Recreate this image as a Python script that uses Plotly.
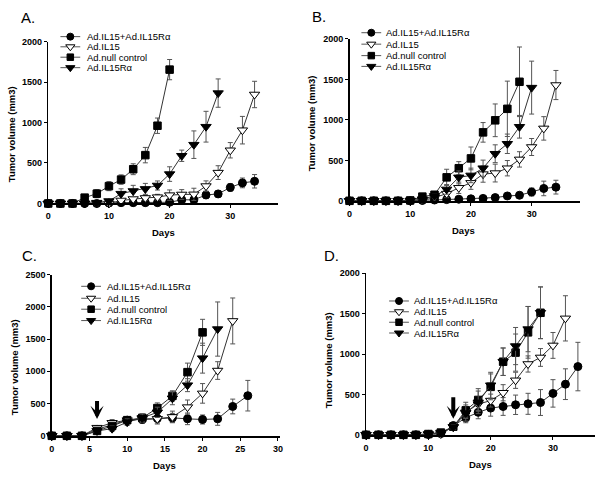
import plotly.graph_objects as go

W, H = 603, 479
FONT = "Arial, Liberation Sans, sans-serif"

series_names = ["Ad.IL15+Ad.IL15Rα", "Ad.IL15", "Ad.null control", "Ad.IL15Rα"]

# ---------------- Panel A ----------------
A_combo = [0, 0, 0, 0, 0, 5, 10, 10, 10, 10, 15, 45, 45, 105, 118, 198, 254, 274]
A_combo_err = [0, 0, 0, 0, 0, 5, 8, 10, 10, 10, 15, 20, 20, 45, 40, 48, 60, 83]
A_il15 = [0, 0, 0, 0, 0, 0, 37, 55, 68, 78, 103, 111, 113, 215, 381, 657, 905, 1346]
A_il15_err = [0, 0, 0, 0, 0, 0, 20, 25, 30, 35, 64, 60, 75, 64, 85, 95, 170, 163]
A_null = [0, 0, 0, 72, 121, 214, 295, 423, 597, 960, 1653]
A_null_err = [0, 0, 0, 20, 50, 56, 58, 67, 95, 95, 125]
A_ra = [0, 0, 0, 0, 10, 30, 121, 154, 180, 222, 363, 589, 726, 948, 1363]
A_ra_err = [0, 0, 0, 0, 10, 15, 60, 70, 68, 56, 90, 70, 170, 190, 175]

# ---------------- Panel B ----------------
B_combo = [0, 0, 0, 0, 0, 0, 5, 10, 15, 20, 25, 30, 40, 60, 69, 109, 153, 169]
B_combo_err = [0, 0, 0, 0, 0, 0, 5, 8, 10, 10, 10, 15, 20, 20, 20, 50, 90, 85]
B_il15 = [0, 0, 0, 0, 0, 0, 5, 40, 89, 161, 222, 330, 343, 403, 512, 665, 895, 1431]
B_il15_err = [0, 0, 0, 0, 0, 0, 5, 20, 50, 70, 80, 100, 110, 95, 95, 105, 145, 180]
B_null = [0, 0, 0, 0, 0, 5, 52, 75, 290, 403, 524, 846, 995, 1137, 1471]
B_null_err = [0, 0, 0, 0, 0, 5, 20, 30, 100, 81, 141, 121, 202, 342, 430]
B_ra = [0, 0, 0, 0, 0, 5, 20, 60, 141, 290, 314, 403, 582, 705, 915, 1399]
B_ra_err = [0, 0, 0, 0, 0, 5, 10, 30, 60, 80, 90, 100, 110, 120, 140, 327]

# ---------------- Panel C ----------------
C_combo = [0, 0, 0, 101, 177, 243, 253, 270, 278, 263, 253, 263, 455, 622]
C_combo_err = [0, 0, 0, 20, 40, 50, 60, 70, 70, 90, 70, 100, 114, 237]
C_il15 = [0, 0, 0, 126, 202, 243, 263, 263, 293, 445, 658, 1012, 1781]
C_il15_err = [0, 0, 0, 30, 50, 50, 60, 80, 90, 110, 152, 137, 356]
C_null = [0, 0, 0, 76, 152, 243, 278, 430, 618, 987, 1604]
C_null_err = [0, 0, 0, 20, 40, 50, 60, 80, 80, 140, 202]
C_ra = [0, 0, 0, 76, 111, 212, 278, 364, 582, 785, 1204, 1655]
C_ra_err = [0, 0, 0, 20, 40, 50, 60, 80, 100, 100, 232, 420]

# ---------------- Panel D ----------------
D_combo = [0, 0, 0, 0, 0, 5, 15, 115, 210, 279, 331, 351, 372, 384, 400, 513, 627, 845]
D_combo_err = [0, 0, 0, 0, 0, 5, 10, 30, 60, 80, 100, 110, 120, 130, 160, 170, 190, 300]
D_il15 = [0, 0, 0, 0, 0, 5, 10, 100, 279, 380, 424, 521, 675, 877, 958, 1107, 1442]
D_il15_err = [0, 0, 0, 0, 0, 5, 10, 30, 60, 80, 80, 100, 100, 100, 110, 160, 280]
D_null = [0, 0, 0, 0, 0, 10, 28, 101, 303, 432, 594, 905, 1018, 1269, 1511]
D_null_err = [0, 0, 0, 0, 0, 10, 15, 30, 100, 140, 160, 170, 230, 320, 320]
D_ra = [0, 0, 0, 0, 0, 10, 28, 95, 270, 402, 614, 905, 1099, 1309, 1511]
D_ra_err = [0, 0, 0, 0, 0, 10, 15, 30, 100, 140, 160, 170, 230, 280, 320]

# treatment arrows (day, tip value, tail value)
C_arrow = (6, 262, 562)
D_arrow = (14, 198, 485)

def days_for(vals):
    return [2 * i for i in range(len(vals))]

styles = [
    dict(symbol="circle", size=8, color="black", line=dict(color="black", width=1)),
    dict(symbol="triangle-down", size=9, color="white", line=dict(color="black", width=1)),
    dict(symbol="square", size=7.5, color="black", line=dict(color="black", width=1)),
    dict(symbol="triangle-down", size=9, color="black", line=dict(color="black", width=1)),
]

panels = [
    [(A_combo, A_combo_err), (A_il15, A_il15_err), (A_null, A_null_err), (A_ra, A_ra_err)],
    [(B_combo, B_combo_err), (B_il15, B_il15_err), (B_null, B_null_err), (B_ra, B_ra_err)],
    [(C_combo, C_combo_err), (C_il15, C_il15_err), (C_null, C_null_err), (C_ra, C_ra_err)],
    [(D_combo, D_combo_err), (D_il15, D_il15_err), (D_null, D_null_err), (D_ra, D_ra_err)],
]

# layout geometry in pixels: (x0, x1, y_bottom, y_top, xmax, ymax, xdtick, ydtick)
geom = [
    (45.7, 278.0, 202.7, 37.3, 37.9, 2000, 10, 500),
    (350.0, 583.0, 200.0, 34.7, 38.0, 2000, 10, 500),
    (49.3, 280.0, 440.0, 275.3, 30.3, 2500, 5, 500),
    (366.7, 598.3, 439.0, 274.0, 36.8, 2000, 10, 500),
]

fig = go.Figure()
layout = dict(
    width=W, height=H, margin=dict(l=0, r=0, t=0, b=0),
    paper_bgcolor="white", plot_bgcolor="rgba(0,0,0,0)",
    showlegend=False, font=dict(family=FONT, color="black"),
)
annotations = []

for p, (data, g) in enumerate(zip(panels, geom)):
    x0, x1, yb, yt, xmax, ymax, xdt, ydt = g
    sfx = "" if p == 0 else str(p + 1)
    xa, ya = "x" + sfx, "y" + sfx
    for k, (vals, err) in enumerate(data):
        st = styles[k]
        fig.add_trace(go.Scatter(
            x=days_for(vals), y=vals, xaxis=xa, yaxis=ya, mode="lines+markers",
            line=dict(color="#333", width=1),
            marker=dict(symbol=st["symbol"], size=st["size"], color=st["color"], line=st["line"]),
            error_y=dict(type="data", array=err, visible=True, color="#555", thickness=1, width=2.5),
            cliponaxis=False, name=series_names[k],
        ))
    layout["xaxis" + sfx] = dict(
        domain=[x0 / W, x1 / W], range=[0, xmax], anchor=ya, dtick=xdt, tick0=0,
        showline=True, linecolor="black", linewidth=2, ticks="outside", ticklen=3,
        tickcolor="black", showgrid=False, zeroline=False,
        tickfont=dict(family=FONT, size=9, color="black", weight="bold"),
    )
    layout["yaxis" + sfx] = dict(
        domain=[1 - yb / H, 1 - yt / H], range=[0, ymax], anchor=xa, dtick=ydt, tick0=0,
        showline=True, linecolor="black", linewidth=1.5, ticks="outside", ticklen=3,
        tickcolor="black", showgrid=False, zeroline=False,
        tickfont=dict(family=FONT, size=9, color="black", weight="bold"),
    )

# overlay axis in pixel units for titles, panel labels and legends
layout["xaxis5"] = dict(domain=[0, 1], range=[0, W], visible=False, anchor="y5", fixedrange=True)
layout["yaxis5"] = dict(domain=[0, 1], range=[H, 0], visible=False, anchor="x5", fixedrange=True)

def txt(x, y, s, size=10, bold=False, anchor="left", angle=0):
    annotations.append(dict(
        x=x, y=y, xref="x5", yref="y5", text=s, showarrow=False, xanchor=anchor,
        yanchor="middle", textangle=angle,
        font=dict(family=FONT, size=size, color="black", weight="bold" if bold else "normal"),
    ))

# panel labels
txt(16, 13, "A.", size=15)
txt(310, 12, "B.", size=15)
txt(17, 256, "C.", size=15)
txt(322, 256, "D.", size=15)

# axis titles
txt(8, 132, "Tumor volume (mm3)", size=9.5, bold=True, anchor="center", angle=-90)
txt(162, 232, "Days", size=9.5, bold=True, anchor="center")
txt(312, 121, "Tumor volume (mm3)", size=9.5, bold=True, anchor="center", angle=-90)
txt(465, 230, "Days", size=9.5, bold=True, anchor="center")
txt(11, 370, "Tumor volume (mm3)", size=9.5, bold=True, anchor="center", angle=-90)
txt(163, 470, "Days", size=9.5, bold=True, anchor="center")
txt(329, 363, "Tumor volume (mm3)", size=9.5, bold=True, anchor="center", angle=-90)
txt(482, 469, "Days", size=9.5, bold=True, anchor="center")

# legends: (line x0, line x1, text x, [row y])
legends = [
    (58, 78, 83, [32.3, 42.7, 53.3, 64.0]),
    (362, 382, 385, [28.3, 40.0, 51.7, 62.7]),
    (79, 99, 103.5, [287.3, 299.5, 310.7, 322.3]),
    (390, 410, 413.5, [302.3, 313.3, 324.0, 335.0]),
]
for (lx0, lx1, tx, rows) in legends:
    for k, yy in enumerate(rows):
        st = styles[k]
        fig.add_trace(go.Scatter(
            x=[lx0, (lx0 + lx1) / 2, lx1], y=[yy, yy, yy], xaxis="x5", yaxis="y5",
            mode="lines", line=dict(color="#555", width=1), hoverinfo="skip", cliponaxis=False,
        ))
        fig.add_trace(go.Scatter(
            x=[(lx0 + lx1) / 2], y=[yy], xaxis="x5", yaxis="y5", mode="markers",
            marker=dict(symbol=st["symbol"], size=st["size"] - 1, color=st["color"], line=st["line"]),
            hoverinfo="skip", cliponaxis=False,
        ))
        txt(tx, yy, series_names[k], size=9.5)

# arrows
for (ax_sfx, arr) in (("3", C_arrow), ("4", D_arrow)):
    day, tip, tail = arr
    annotations.append(dict(
        x=day, y=tip, ax=day, ay=tail, xref="x" + ax_sfx, yref="y" + ax_sfx,
        axref="x" + ax_sfx, ayref="y" + ax_sfx, showarrow=True, arrowhead=3,
        arrowwidth=4, arrowsize=0.55, arrowcolor="black", text="",
    ))

layout["annotations"] = annotations
fig.update_layout(**layout)
fig.write_html(
    "out.html",
    config={"displayModeBar": False, "staticPlot": True},
    post_script="document.body.style.margin='0px';document.body.style.overflow='hidden';",
)
